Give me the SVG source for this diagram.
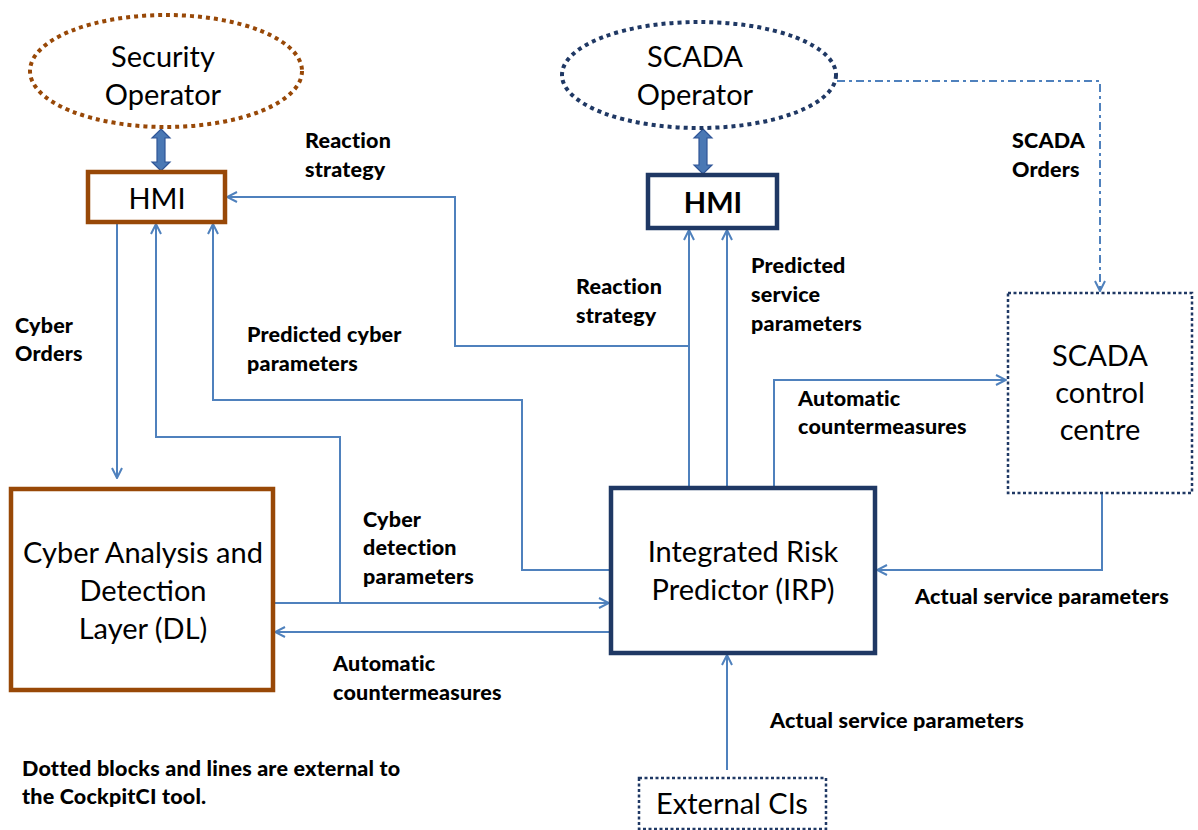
<svg xmlns="http://www.w3.org/2000/svg" width="1198" height="830" viewBox="0 0 1198 830">
<defs>
<marker id="arr" viewBox="0 0 12 12" refX="11" refY="6" markerWidth="12" markerHeight="12" markerUnits="userSpaceOnUse" orient="auto">
<path d="M1,1 L11,6 L1,11" fill="none" stroke="#4f81bd" stroke-width="2"/>
</marker>
</defs>
<style>
.reg{font-family:Lato,"Liberation Sans",sans-serif;font-size:29px;fill:#000;text-anchor:middle}
.hb{font-family:Lato,"Liberation Sans",sans-serif;font-size:29px;font-weight:bold;fill:#000;text-anchor:middle}
.lbl{font-family:Lato,"Liberation Sans",sans-serif;font-size:21.5px;font-weight:900;fill:#000;letter-spacing:0.2px}
.con{fill:none;stroke:#4f81bd;stroke-width:2}
.brown{fill:#fff;stroke:#984807;stroke-width:4.5}
.navy{fill:#fff;stroke:#1f3864;stroke-width:4.5}
.dotnavy{fill:#fff;stroke:#1f3864;stroke-width:2.5;stroke-dasharray:3 2.5}
.dbl{fill:#4a78b4;stroke:#2f5597;stroke-width:1.2}
</style>
<rect width="1198" height="830" fill="#fff"/>

<g id="connectors">
<path class="con" d="M117,222 V478" marker-end="url(#arr)"/>
<path class="con" d="M273,603 H609" marker-end="url(#arr)"/>
<path class="con" d="M340,603 V437 H156 V224" marker-end="url(#arr)"/>
<path class="con" d="M611,632 H275" marker-end="url(#arr)"/>
<path class="con" d="M611,570 H522 V400 H213 V224" marker-end="url(#arr)"/>
<path class="con" d="M689,488 V230" marker-end="url(#arr)"/>
<path class="con" d="M689,346 H455 V197 H227" marker-end="url(#arr)"/>
<path class="con" d="M727,488 V230" marker-end="url(#arr)"/>
<path class="con" d="M774,488 V380 H1006" marker-end="url(#arr)"/>
<path class="con" d="M1102,493 V570 H877" marker-end="url(#arr)"/>
<path class="con" d="M727,770 V655" marker-end="url(#arr)"/>
<path class="con" d="M837,81 H1100 V291" stroke-width="2.5" stroke-dasharray="8 4 3 4" marker-end="url(#arr)"/>
<path class="dbl" d="M161,129 L170,138 L165,138 L165,162 L170,162 L161,171 L152,162 L157,162 L157,138 L152,138 Z"/>
<path class="dbl" d="M703,129 L712,138 L707,138 L707,165 L712,165 L703,174 L694,165 L699,165 L699,138 L694,138 Z"/>
</g>

<g id="security-operator">
<ellipse cx="166" cy="71" rx="136" ry="56" fill="none" stroke="#984807" stroke-width="4" stroke-dasharray="4 4"/>
<text class="reg" x="163" y="67">Security</text>
<text class="reg" x="163" y="105">Operator</text>
</g>

<g id="hmi-security">
<rect class="brown" x="88" y="172" width="137" height="50"/>
<text class="reg" x="157" y="209">HMI</text>
</g>

<g id="scada-operator">
<ellipse cx="699" cy="75" rx="137" ry="53" fill="none" stroke="#1f3864" stroke-width="4" stroke-dasharray="4 4"/>
<text class="reg" x="695" y="67">SCADA</text>
<text class="reg" x="695" y="105">Operator</text>
</g>

<g id="hmi-scada">
<rect class="navy" x="648" y="175" width="129" height="53"/>
<text class="hb" x="713" y="213">HMI</text>
</g>

<g id="scada-control-centre">
<rect class="dotnavy" x="1008" y="293" width="184" height="200"/>
<text class="reg" x="1100" y="366">SCADA</text>
<text class="reg" x="1100" y="403">control</text>
<text class="reg" x="1100" y="440">centre</text>
</g>

<g id="cyber-analysis">
<rect class="brown" x="11" y="489" width="262" height="201"/>
<text class="reg" x="143" y="563">Cyber Analysis and</text>
<text class="reg" x="143" y="601">Detection</text>
<text class="reg" x="143" y="639">Layer (DL)</text>
</g>

<g id="irp">
<rect class="navy" x="611" y="488" width="264" height="165"/>
<text class="reg" x="743" y="562">Integrated Risk</text>
<text class="reg" x="743" y="600">Predictor (IRP)</text>
</g>

<g id="external-cis">
<rect class="dotnavy" x="639" y="778" width="187" height="51"/>
<text class="reg" x="732" y="814">External CIs</text>
</g>

<g id="labels">
<text class="lbl" x="305" y="148">Reaction</text>
<text class="lbl" x="305" y="177">strategy</text>
<text class="lbl" x="1012" y="148">SCADA</text>
<text class="lbl" x="1012" y="177">Orders</text>
<text class="lbl" x="751" y="273">Predicted</text>
<text class="lbl" x="751" y="302">service</text>
<text class="lbl" x="751" y="331">parameters</text>
<text class="lbl" x="576" y="294">Reaction</text>
<text class="lbl" x="576" y="323">strategy</text>
<text class="lbl" x="15" y="333">Cyber</text>
<text class="lbl" x="15" y="361">Orders</text>
<text class="lbl" x="247" y="342">Predicted cyber</text>
<text class="lbl" x="247" y="371">parameters</text>
<text class="lbl" x="798" y="406">Automatic</text>
<text class="lbl" x="798" y="434">countermeasures</text>
<text class="lbl" x="363" y="527">Cyber</text>
<text class="lbl" x="363" y="555">detection</text>
<text class="lbl" x="363" y="584">parameters</text>
<text class="lbl" x="915" y="604">Actual service parameters</text>
<text class="lbl" x="333" y="671">Automatic</text>
<text class="lbl" x="333" y="700">countermeasures</text>
<text class="lbl" x="770" y="728">Actual service parameters</text>
<text class="lbl" x="22" y="776">Dotted blocks and lines are external to</text>
<text class="lbl" x="22" y="804">the CockpitCI tool.</text>
</g>
</svg>
